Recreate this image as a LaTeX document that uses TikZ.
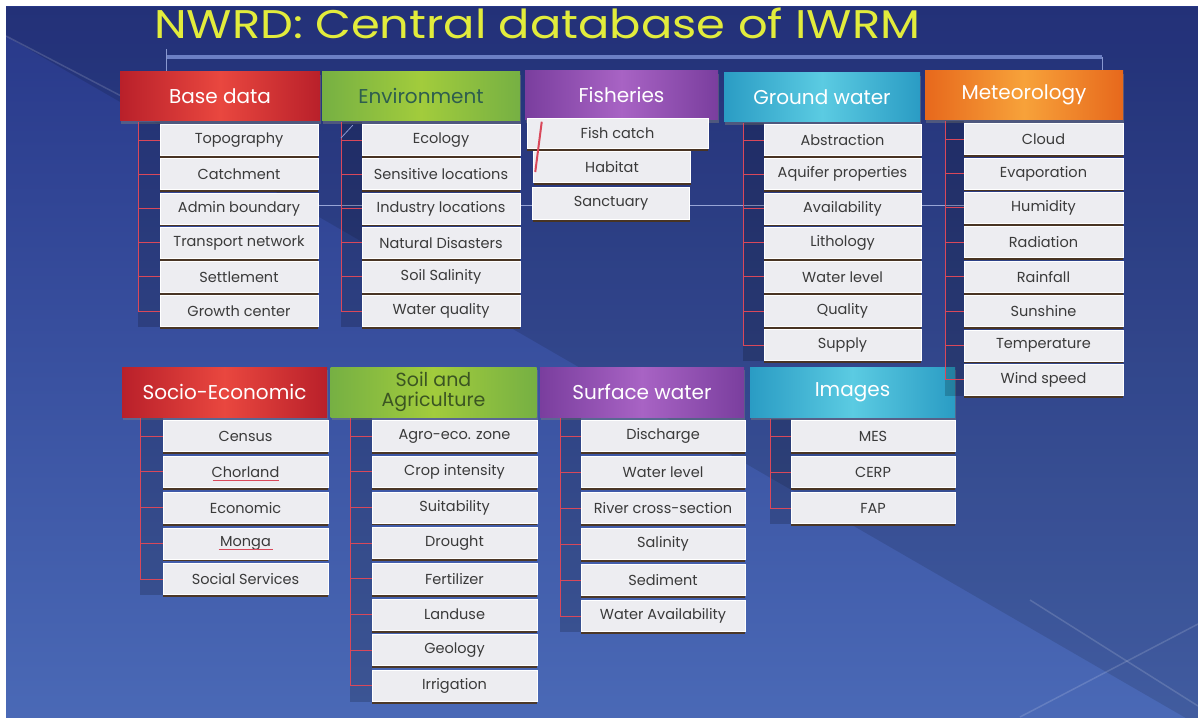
\documentclass[tikz,border=0pt]{standalone}
\usepackage{fontspec}
\setmainfont{Poppins}
\usetikzlibrary{positioning}
\usetikzlibrary{shadows}
\usetikzlibrary{calc}

\definecolor{slidetop}{HTML}{283889}
\definecolor{slidebot}{HTML}{4A69B6}
\definecolor{titleyel}{HTML}{E2EC3C}
\definecolor{boxfill}{HTML}{EDEDF1}
\definecolor{boxtext}{HTML}{3A3A3A}
\definecolor{tickred}{HTML}{D9485A}
\definecolor{rulecol}{HTML}{6C7FC4}
\definecolor{redA}{HTML}{B9202A}
\definecolor{redB}{HTML}{E9473F}
\definecolor{greenA}{HTML}{76B043}
\definecolor{greenB}{HTML}{A2CC3C}
\definecolor{purpA}{HTML}{7A3E9E}
\definecolor{purpB}{HTML}{A863C4}
\definecolor{cyanA}{HTML}{2A9CC4}
\definecolor{cyanB}{HTML}{5BCBE2}
\definecolor{orngA}{HTML}{E7681C}
\definecolor{orngB}{HTML}{F7A23A}
\definecolor{envtext}{HTML}{2E5E4E}
\definecolor{soiltext}{HTML}{3B5522}

\begin{document}
\begin{tikzpicture}
  [
    x=1pt, y=-1pt,
    head/.style = {minimum height=49pt, inner sep=0pt, align=center,
      font=\fontsize{20}{19}\selectfont, text=white,
      drop shadow={shadow xshift=1pt, shadow yshift=-3pt, opacity=0.45}},
    headred/.style  = {head, left color=redA, right color=redA, middle color=redB},
    headgreen/.style = {head, left color=greenA, right color=greenA, middle color=greenB, text=envtext},
    headpurp/.style = {head, left color=purpA, right color=purpA, middle color=purpB},
    headcyan/.style = {head, left color=cyanA, right color=cyanA, middle color=cyanB},
    headorng/.style = {head, left color=orngA, right color=orngA, middle color=orngB},
    item/.style = {fill=boxfill, draw=white, line width=0.5pt, minimum height=31pt,
      inner sep=0pt, font=\fontsize{14.5}{16}\selectfont, text=boxtext,
      drop shadow={shadow xshift=0pt, shadow yshift=-2.5pt, fill=black!60!brown, opacity=0.9}},
    tick/.style  = {draw=tickred, line width=1pt},
    strip/.style = {fill=black, opacity=0.18},
    faint/.style = {draw=white, opacity=0.15, line width=1.5pt},
  ]

  \useasboundingbox (0,0) rectangle (1198,717);

  % the slide
  \fill[white] (0,0) rectangle (1198,717);
  \shade[top color=slidetop, bottom color=slidebot] (6,7) rectangle (1198,717);
  \fill[black, opacity=0.12] (6,7) -- (6,36) -- (1198,725) -- (1198,7) -- cycle;
  \draw[faint] (6,36) -- (125,98);
  \draw[faint] (1030,600) -- (1198,706);
  \draw[faint] (1020,717) -- (1198,624);
  \draw[rulecol!70!white, line width=0.8pt] (318,205) -- (965,205);

  % title and rule
  \node (title) at (150,39) [anchor=base west, text=titleyel, xscale=1.16,
    font=\fontsize{40}{44}\selectfont] {NWRD: Central database of IWRM};
  \coordinate (ruleL) at (166,57);
  \coordinate (ruleR) at (1102,57);
  \draw[rulecol, line width=4pt] (ruleL) -- (ruleR);
  \draw[rulecol!80!white, line width=0.8pt] ($(ruleL)+(0,-8)$) -- (166,72);
  \draw[rulecol!80!white, line width=0.8pt] (ruleR) -- (1102,72);

  % first row of headers
  \node (base) at (220,96)    [headred,   minimum width=200pt] {Base data};
  \node (env)  at (421,96)    [headgreen, minimum width=198pt] {Environment};
  \node (fish) at (621.5,95)  [headpurp,  minimum width=193pt] {Fisheries};
  \node (gw)   at (822,97)    [headcyan,  minimum width=196pt] {Ground water};
  \node (met)  at (1024,95)   [headorng,  minimum width=198pt] {Meteorology};

  % second row of headers
  \node (socio) at (224.5,392) [headred,   minimum width=205pt, minimum height=50pt] {Socio-Economic};
  \node (soil)  at (433.5,392) [headgreen, minimum width=206pt, minimum height=50pt,
    font=\fontsize{19}{20}\selectfont, text=soiltext] {Soil and\\Agriculture};
  \node (sw)    at (642,392)   [headpurp,  minimum width=204pt, minimum height=50pt] {Surface water};
  \node (img)   at (852.5,392) [headcyan,  minimum width=205pt, minimum height=50pt] {Images};

  % bracket tops
  \coordinate (basetop)  at (138,122);
  \coordinate (envtop)   at (341,122);
  \coordinate (gwtop)    at (743,123);
  \coordinate (mettop)   at (945,121);
  \coordinate (sociotop) at (140,418);
  \coordinate (soiltop)  at (350,418);
  \coordinate (swtop)    at (560,418);
  \coordinate (imgtop)   at (770,419);

  % items
  \foreach \txt [count=\i] in {Topography, Catchment, Admin boundary,
      Transport network, Settlement, Growth center}
    \node (base\i) at (239,{140+34.2*(\i-1)}) [item, minimum width=158pt] {\txt};
  \foreach \txt [count=\i] in {Ecology, Sensitive locations, Industry locations,
      Natural Disasters, Soil Salinity, Water quality}
    \node (env\i) at (441,{140+34.2*(\i-1)}) [item, minimum width=158pt] {\txt};
  \node (fish1) at (617.5,133) [item, minimum width=181pt, minimum height=30pt] {Fish catch};
  \node (fish2) at (612,167)   [item, minimum width=157pt] {Habitat};
  \node (fish3) at (611,203)   [item, minimum width=157pt, minimum height=32pt] {Sanctuary};
  \foreach \txt [count=\i] in {Abstraction, Aquifer properties, Availability,
      Lithology, Water level, Quality, Supply}
    \node (gw\i) at (842.5,{140+34.2*(\i-1)}) [item, minimum width=157pt] {\txt};
  \foreach \txt [count=\i] in {Cloud, Evaporation, Humidity, Radiation,
      Rainfall, Sunshine, Temperature, Wind speed}
    \node (met\i) at (1043.5,{139+34.4*(\i-1)}) [item, minimum width=159pt] {\txt};
  \foreach \txt [count=\i] in {Census, Chorland, Economic, Monga, Social Services}
    \node (socio\i) at (245.5,{436+35.8*(\i-1)}) [item, minimum width=165pt] {\txt};
  \foreach \txt [count=\i] in {Agro-eco. zone, Crop intensity, Suitability, Drought,
      Fertilizer, Landuse, Geology, Irrigation}
    \node (soil\i) at (454.5,{436+35.7*(\i-1)}) [item, minimum width=165pt] {\txt};
  \foreach \txt [count=\i] in {Discharge, Water level, River cross-section,
      Salinity, Sediment, Water Availability}
    \node (sw\i) at (663,{436+36*(\i-1)}) [item, minimum width=164pt] {\txt};
  \foreach \txt [count=\i] in {MES, CERP, FAP}
    \node (img\i) at (873,{436+36*(\i-1)}) [item, minimum width=164pt] {\txt};

  % brackets
  \foreach \grp/\n in {base/6, env/6, gw/7, met/8, socio/5, soil/8, sw/6, img/3} {
    \fill[strip] (\grp top) rectangle (\grp\n.south west);
    \draw[tick] (\grp top) -- (\grp top |- \grp\n.west);
    \foreach \i in {1,...,\n}
      \draw[tick] (\grp top |- \grp\i.west) -- (\grp\i.west);
  }

  % stray marks
  \draw[tickred, line width=2pt] ($(fish1.north west)+(15,4)$) -- ($(fish2.west)+(2,5)$);
  \draw[rulecol!80!white, line width=0.8pt] ($(env1.north west)+(-9,1)$) -- ($(envtop)+(0,16)$);
  \draw[tickred, line width=0.6pt] ($(socio2.base)+(-33,3)$) -- ($(socio2.base)+(33,3)$);
  \draw[tickred, line width=0.6pt] ($(socio4.base)+(-27,3)$) -- ($(socio4.base)+(27,3)$);

\end{tikzpicture}
\end{document}
